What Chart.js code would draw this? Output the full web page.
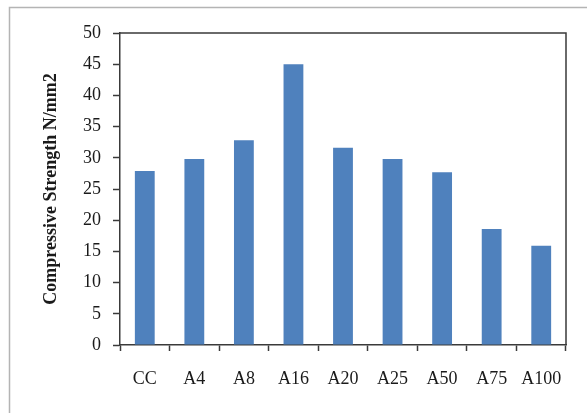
<!DOCTYPE html>
<html>
<head>
<meta charset="utf-8">
<script src="https://cdn.jsdelivr.net/npm/chart.js@4"></script>
<style>
  html, body { margin: 0; padding: 0; background: #ffffff; }
  #wrap { width: 587px; height: 413px; }
</style>
</head>
<body>
<div id="wrap"><canvas id="c" width="587" height="413"></canvas></div>
<script>
// Mix designations and their compressive strengths (N/mm2)
const categories = ['CC', 'A4', 'A8', 'A16', 'A20', 'A25', 'A50', 'A75', 'A100'];
const strengthValues = [27.9, 29.8, 32.8, 45.0, 31.6, 29.8, 27.7, 18.6, 15.9];
const yTickValues = [0, 5, 10, 15, 20, 25, 30, 35, 40, 45, 50];

const SERIF = '"Liberation Serif", "Times New Roman", serif';
const AXIS_COLOR = '#3a3a3a';

// Light outer frame around the figure and a dark box around the plot area
const framePlugin = {
  id: 'frames',
  beforeDraw(chart) {
    const ctx = chart.ctx;
    ctx.save();
    ctx.fillStyle = '#ffffff';
    ctx.fillRect(0, 0, chart.width, chart.height);
    ctx.strokeStyle = '#b4b4b4';
    ctx.lineWidth = 1.5;
    ctx.beginPath();
    ctx.moveTo(chart.width + 2, 7.5);
    ctx.lineTo(9.5, 7.5);
    ctx.lineTo(9.5, chart.height + 2);
    ctx.stroke();
    ctx.restore();
  },
  afterDraw(chart) {
    const a = chart.chartArea;
    const ctx = chart.ctx;
    ctx.save();
    ctx.strokeStyle = AXIS_COLOR;
    ctx.lineWidth = 1.5;
    ctx.beginPath();
    ctx.moveTo(a.left, a.top);
    ctx.lineTo(a.right, a.top);
    ctx.lineTo(a.right, a.bottom);
    ctx.stroke();
    ctx.restore();
  }
};

new Chart(document.getElementById('c'), {
  type: 'bar',
  data: {
    labels: categories,
    datasets: [{
      data: strengthValues,
      backgroundColor: '#4f81bd',
      borderWidth: 0,
      barPercentage: 0.4,
      categoryPercentage: 1.0
    }]
  },
  options: {
    responsive: false,
    animation: false,
    devicePixelRatio: 1,
    layout: { padding: { top: 33, right: 21, left: 41, bottom: 0 } },
    plugins: {
      legend: { display: false },
      tooltip: { enabled: false }
    },
    scales: {
      x: {
        offset: true,
        grid: {
          display: true,
          offset: true,
          drawOnChartArea: false,
          drawTicks: true,
          tickLength: 6,
          tickColor: AXIS_COLOR,
          tickWidth: 1.5
        },
        border: { display: true, color: AXIS_COLOR, width: 1.5 },
        ticks: {
          color: '#1a1a1a',
          font: { family: SERIF, size: 18 },
          padding: 17,
          maxRotation: 0,
          autoSkip: false
        },
        afterFit(scale) { scale.height = 68; }
      },
      y: {
        min: 0,
        max: 50,
        afterBuildTicks(scale) {
          scale.ticks = yTickValues.map(v => ({ value: v }));
        },
        grid: {
          display: true,
          drawOnChartArea: false,
          drawTicks: true,
          tickLength: 7,
          tickColor: AXIS_COLOR,
          tickWidth: 1.5
        },
        border: { display: true, color: AXIS_COLOR, width: 1.5 },
        ticks: {
          color: '#1a1a1a',
          font: { family: SERIF, size: 18 },
          padding: 12
        },
        title: {
          display: true,
          text: 'Compressive Strength N/mm2',
          color: '#1a1a1a',
          font: { family: SERIF, size: 18, weight: 'bold' },
          padding: 0
        },
        afterFit(scale) { scale.width = 79; }
      }
    }
  },
  plugins: [framePlugin]
});
</script>
</body>
</html>
